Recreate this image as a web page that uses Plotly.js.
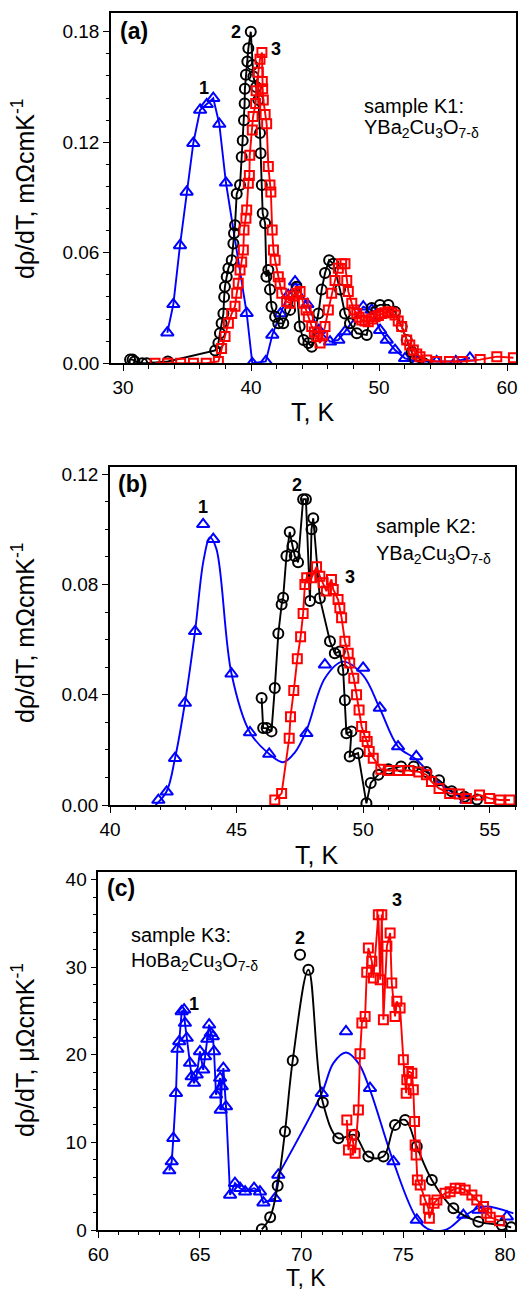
<!DOCTYPE html>
<html>
<head>
<meta charset="utf-8">
<script src="https://cdn.plot.ly/plotly-3.0.1.min.js"></script>
<style>html,body{margin:0;padding:0;background:#fff;}#chart{width:519px;height:1292px;}</style>
</head>
<body>
<div id="chart"></div>
<script>
// ---------- Panel (a): sample K1, YBa2Cu3O7-d (mOhm cm / K) ----------
const aT1 = [33.46, 33.93, 34.45, 34.97, 35.49, 36.02, 36.54, 37.05, 37.52, 38.04, 39.66, 40.1, 41.15, 41.66, 42.3, 42.9, 43.44, 44.4, 45.3, 46.17, 46.82, 47.34, 48.77, 49.43, 50.08, 50.6, 51.25, 52.03, 53.0, 54.5, 56.0, 57.1];
const aY1 = [0.0166, 0.032, 0.064, 0.093, 0.1195, 0.1375, 0.1406, 0.1439, 0.1299, 0.098, 0.0272, 0.0, 0.001, 0.0154, 0.027, 0.037, 0.0443, 0.032, 0.018, 0.0117, 0.0127, 0.0172, 0.0307, 0.029, 0.018, 0.0127, 0.0072, 0.0027, 0.001, 0.001, 0.001, 0.003];
const aT2 = [30.55, 30.75, 30.9, 31.5, 31.85, 33.5, 37.2, 37.45, 37.57, 37.7, 37.84, 37.9, 37.96, 38.1, 38.23, 38.49, 38.62, 38.67, 38.75, 38.88, 39.14, 39.27, 39.35, 39.45, 39.5, 39.52, 39.6, 39.71, 39.79, 39.98, 40.1, 40.18, 40.4, 40.57, 40.7, 40.75, 40.84, 40.91, 41.1, 41.2, 41.35, 41.48, 41.6, 41.88, 42.13, 42.52, 43.05, 43.56, 43.8, 44.1, 44.48, 44.74, 45.26, 45.52, 45.78, 46.1, 46.43, 46.95, 47.34, 47.73, 48.26, 49.04, 49.43, 50.07, 50.73, 51.25, 51.77, 52.16, 52.55, 52.8, 53.5];
const aY2 = [0.002, 0.002, 0.001, 0.0, 0.0, 0.001, 0.007, 0.011, 0.0163, 0.0217, 0.027, 0.036, 0.0416, 0.047, 0.0516, 0.056, 0.065, 0.0706, 0.075, 0.092, 0.0968, 0.112, 0.121, 0.132, 0.141, 0.149, 0.1566, 0.1638, 0.171, 0.18, 0.162, 0.1557, 0.15, 0.143, 0.125, 0.114, 0.0968, 0.0815, 0.076, 0.047, 0.0507, 0.04, 0.0307, 0.0253, 0.0217, 0.0217, 0.029, 0.0416, 0.02, 0.0127, 0.011, 0.009, 0.027, 0.04, 0.049, 0.056, 0.054, 0.04, 0.027, 0.0217, 0.0163, 0.0154, 0.03, 0.0317, 0.0317, 0.028, 0.02, 0.0127, 0.0063, 0.002, 0.0];
const aT3 = [32.5, 33.5, 34.5, 35.5, 36.5, 37.45, 37.7, 37.97, 38.23, 38.49, 38.75, 38.88, 39.0, 39.14, 39.27, 39.4, 39.45, 39.6, 39.66, 39.79, 39.87, 39.9, 40.1, 40.16, 40.36, 40.4, 40.57, 40.7, 40.85, 40.88, 40.91, 40.96, 41.1, 41.22, 41.35, 41.48, 41.55, 41.65, 41.75, 41.88, 42.13, 42.27, 42.4, 42.78, 43.05, 43.3, 43.55, 43.83, 44.09, 44.3, 44.48, 44.74, 44.95, 45.13, 45.39, 45.6, 45.78, 46.04, 46.3, 46.56, 46.82, 47.08, 47.34, 47.48, 47.6, 47.87, 48.05, 48.26, 48.45, 48.65, 48.9, 49.16, 49.45, 49.69, 49.95, 50.2, 50.45, 50.73, 51.0, 51.25, 51.5, 51.77, 52.16, 52.4, 52.68, 52.95, 53.2, 53.72, 54.5, 55.5, 56.5, 57.9, 59.2, 60.5];
const aY3 = [0.0, 0.0, 0.0, 0.0, 0.0, 0.001, 0.008, 0.0145, 0.0217, 0.027, 0.031, 0.038, 0.0435, 0.0507, 0.055, 0.0615, 0.0724, 0.0787, 0.0832, 0.0977, 0.102, 0.113, 0.1267, 0.134, 0.141, 0.148, 0.158, 0.165, 0.1687, 0.153, 0.149, 0.143, 0.135, 0.130, 0.1068, 0.0968, 0.093, 0.0724, 0.0615, 0.056, 0.047, 0.0435, 0.038, 0.0335, 0.0326, 0.0365, 0.038, 0.039, 0.0326, 0.029, 0.0253, 0.02, 0.017, 0.0145, 0.011, 0.015, 0.02, 0.029, 0.038, 0.045, 0.0516, 0.054, 0.054, 0.045, 0.039, 0.0326, 0.029, 0.027, 0.025, 0.0235, 0.023, 0.0226, 0.024, 0.0253, 0.026, 0.027, 0.0275, 0.028, 0.0275, 0.0262, 0.023, 0.02, 0.0127, 0.01, 0.0072, 0.005, 0.0036, 0.0018, 0.001, 0.001, 0.001, 0.002, 0.0036, 0.003];

// ---------- Panel (b): sample K2, YBa2Cu3O7-d (mOhm cm / K) ----------
const bT1 = [41.91, 42.24, 42.57, 42.96, 43.36, 43.68, 44.08, 44.8, 45.53, 46.29, 47.76, 48.49, 50.0, 50.66, 51.38, 52.1, 54.08];
const bY1 = [0.0018, 0.0048, 0.017, 0.037, 0.063, 0.1018, 0.0964, 0.0476, 0.0263, 0.0185, 0.026, 0.0509, 0.0497, 0.0352, 0.0212, 0.0176, 0.0018];
const bFitT = [41.8, 42.24, 42.57, 42.96, 43.36, 43.7, 43.95, 44.2, 44.8, 45.53, 46.29, 46.84, 47.3, 47.76, 48.49, 49.2, 50.0, 50.66, 51.38, 52.1, 53.0, 54.0];
const bFitY = [0.0, 0.005, 0.017, 0.037, 0.063, 0.089, 0.097, 0.093, 0.0476, 0.0263, 0.0185, 0.0155, 0.019, 0.027, 0.046, 0.052, 0.047, 0.035, 0.0212, 0.0165, 0.008, 0.002];
const bT2 = [45.99, 46.05, 46.19, 46.38, 46.51, 46.65, 46.78, 46.84, 46.97, 47.1, 47.21, 47.3, 47.43, 47.63, 47.74, 47.9, 47.96, 48.03, 48.29, 48.69, 48.88, 49.08, 49.21, 49.28, 49.34, 49.54, 49.47, 49.8, 50.13, 50.3, 50.6, 51.0, 51.5, 52.0, 52.5, 53.0, 53.5, 54.0, 54.5];
const bY2 = [0.0388, 0.0279, 0.0279, 0.0267, 0.0424, 0.0622, 0.0727, 0.0752, 0.0903, 0.099, 0.094, 0.0903, 0.088, 0.1109, 0.1109, 0.074, 0.1, 0.104, 0.075, 0.0594, 0.055, 0.0557, 0.049, 0.038, 0.026, 0.0267, 0.0176, 0.0188, 0.0006, 0.008, 0.011, 0.013, 0.014, 0.014, 0.012, 0.009, 0.005, 0.003, 0.002];
const bT3 = [46.51, 46.78, 47.08, 47.13, 47.26, 47.4, 47.53, 47.63, 47.7, 47.77, 47.96, 48.16, 48.29, 48.42, 48.55, 48.75, 48.82, 49.01, 49.08, 49.15, 49.28, 49.41, 49.47, 49.63, 49.74, 49.84, 49.94, 50.07, 50.16, 50.24, 50.4, 50.7, 51.0, 51.4, 51.8, 52.2, 52.5, 52.7, 53.0, 53.42, 53.8, 54.08, 54.6, 55.0, 55.4, 55.8];
const bY3 = [0.0018, 0.0042, 0.0242, 0.032, 0.0415, 0.053, 0.061, 0.0695, 0.08, 0.0824, 0.0824, 0.0864, 0.083, 0.0806, 0.0776, 0.0818, 0.0782, 0.0745, 0.0715, 0.0679, 0.0594, 0.055, 0.0515, 0.046, 0.04, 0.0345, 0.0285, 0.0248, 0.023, 0.0194, 0.017, 0.013, 0.0125, 0.0125, 0.0125, 0.012, 0.011, 0.0085, 0.006, 0.0042, 0.004, 0.0024, 0.0036, 0.0024, 0.0018, 0.0018];

// ---------- Panel (c): sample K3, HoBa2Cu3O7-d (uOhm cm / K) ----------
const cT1 = [63.49, 63.61, 63.69, 63.82, 63.89, 63.98, 64.1, 64.22, 64.26, 64.35, 64.51, 64.59, 64.71, 64.84, 65.0, 65.16, 65.25, 65.36, 65.45, 65.53, 65.63, 65.69, 65.79, 65.99, 66.02, 66.07, 66.15, 66.28, 66.48, 66.72, 66.97, 67.22, 67.66, 67.95, 68.12, 68.69, 68.85];
const cY1 = [6.78, 7.81, 10.48, 15.62, 20.65, 21.52, 24.95, 25.14, 23.62, 21.91, 19.05, 17.52, 16.77, 17.71, 20.38, 18.29, 19.8, 21.79, 23.43, 22.48, 22.09, 20.38, 15.43, 17.34, 13.71, 16.38, 18.48, 14.09, 4.0, 5.34, 4.77, 4.38, 4.77, 4.38, 3.12, 3.62, 6.29];
const cT1b = [70.99, 72.18, 73.36, 74.51, 75.66, 77.95, 78.69, 80.09];
const cY1b = [15.62, 22.66, 16.19, 7.81, 1.14, 1.71, 2.29, 1.52];
const cFitT = [68.85, 70.99, 71.56, 72.18, 72.79, 73.36, 74.51, 75.66, 76.32, 77.14, 77.95, 78.94, 80.41];
const cFitY = [6.29, 15.62, 19.05, 20.26, 19.05, 16.0, 7.81, 1.33, 0.0, 0.08, 1.52, 2.67, 1.9];
const cT2 = [68.04, 68.45, 68.82, 69.18, 69.56, 70.33, 71.04, 71.8, 72.58, 73.28, 74.02, 74.59, 75.09, 75.66, 76.4, 77.46, 78.69, 79.84, 80.3];
const cY2 = [0.08, 1.45, 5.06, 11.23, 19.35, 29.71, 14.55, 10.48, 10.86, 8.38, 8.38, 12.0, 12.57, 9.52, 5.71, 2.48, 0.95, 0.57, 0.3];
const cT2b = [69.92];
const cY2b = [31.43];
const cT3 = [72.22, 72.3, 72.46, 72.63, 72.79, 72.87, 72.96, 73.12, 73.2, 73.28, 73.45, 73.53, 73.77, 73.86, 73.94, 74.02, 74.19, 74.35, 74.43, 74.59, 74.68, 74.84, 75.0, 75.14, 75.17, 75.25, 75.42, 75.49, 75.55, 75.58, 75.63, 75.69, 75.83, 76.07, 76.23, 76.28, 76.51, 76.65, 77.05, 77.3, 77.55, 77.79, 78.04, 78.37, 78.61, 78.94, 79.1, 79.27, 79.73];
const cY3 = [12.57, 9.14, 10.86, 8.76, 13.71, 20.11, 23.62, 24.38, 29.41, 32.19, 30.67, 28.76, 36.0, 28.57, 36.0, 24.0, 32.38, 33.9, 28.19, 24.38, 26.1, 25.33, 19.43, 15.62, 17.14, 18.1, 17.9, 16.0, 12.38, 9.71, 8.57, 5.71, 5.14, 3.43, 2.48, 1.33, 3.05, 3.43, 4.19, 4.38, 4.76, 4.76, 4.57, 4.0, 3.43, 2.67, 1.9, 1.45, 1.06];

const BLUE = '#0000ff', RED = '#ff0000', BLACK = '#000000';
const W = 519, H = 1292;
const FONT = 'Liberation Sans, Arial, Helvetica, sans-serif';

function mk(x, y, xa, ya, color, symbol, size, mode, shape) {
  return {
    x: x, y: y, xaxis: xa, yaxis: ya, type: 'scatter', mode: mode || 'lines+markers',
    line: {color: color, width: 1.9, shape: shape || 'linear', smoothing: 1},
    marker: {symbol: symbol, size: size, color: color, line: {color: color, width: 2}},
    hoverinfo: 'skip', showlegend: false
  };
}

const traces = [
  mk(aT1, aY1, 'x', 'y', BLUE, 'triangle-up-open', 11),
  mk(aT2, aY2, 'x', 'y', BLACK, 'circle-open', 10),
  mk(aT3, aY3, 'x', 'y', RED, 'square-open', 9),

  mk(bFitT, bFitY, 'x2', 'y2', BLUE, 'triangle-up-open', 11, 'lines', 'spline'),
  mk(bT1, bY1, 'x2', 'y2', BLUE, 'triangle-up-open', 11, 'markers'),
  mk(bT2, bY2, 'x2', 'y2', BLACK, 'circle-open', 10),
  mk(bT3, bY3, 'x2', 'y2', RED, 'square-open', 9),

  mk(cT1, cY1, 'x3', 'y3', BLUE, 'triangle-up-open', 11),
  mk(cFitT, cFitY, 'x3', 'y3', BLUE, 'triangle-up-open', 11, 'lines', 'spline'),
  mk(cT1b, cY1b, 'x3', 'y3', BLUE, 'triangle-up-open', 11, 'markers'),
  mk(cT2, cY2, 'x3', 'y3', BLACK, 'circle-open', 10, 'lines+markers', 'spline'),
  mk(cT2b, cY2b, 'x3', 'y3', BLACK, 'circle-open', 10, 'markers'),
  mk(cT3, cY3, 'x3', 'y3', RED, 'square-open', 9)
];

function ax(domain, range, dtick, minor, anchor, fmt) {
  const o = {
    domain: domain, range: range, anchor: anchor, dtick: dtick, tick0: 0,
    ticks: 'outside', ticklen: 6, tickwidth: 1.4, tickcolor: '#000',
    minor: {dtick: minor, ticks: 'outside', ticklen: 3.5, tickwidth: 1.2, tickcolor: '#000', showgrid: false},
    showline: true, linecolor: '#000', linewidth: 1.5, mirror: true,
    showgrid: false, zeroline: false, automargin: false,
    tickfont: {family: FONT, size: 19, color: '#000'}, fixedrange: true
  };
  if (fmt) o.tickformat = fmt;
  return o;
}

function A(text, x, y, opts) {
  opts = opts || {};
  return Object.assign({
    text: text, xref: 'paper', yref: 'paper', x: x / W, y: 1 - y / H,
    showarrow: false, xanchor: 'center', yanchor: 'middle',
    font: {family: FONT, size: 18, color: '#000', weight: 'bold'}
  }, opts);
}
const bold = (s) => ({family: FONT, size: s, color: '#000', weight: 'bold'});
const reg = (s) => ({family: FONT, size: s, color: '#000'});

const YT1 = 'dρ/dT, mΩcmK<sup>-1</sup>';
const YT3 = 'dρ/dT, μΩcmK<sup>-1</sup>';
const XT = 'T, K';

const annotations = [
  A('<b>(a)</b>', 134, 31, {font: bold(23)}),
  A('<b>(b)</b>', 132, 484, {font: bold(23)}),
  A('<b>(c)</b>', 121, 888, {font: bold(23)}),
  A('1', 204, 88), A('2', 236, 32), A('3', 276, 49),
  A('1', 203, 507), A('2', 297, 485), A('3', 350, 577),
  A('1', 194, 1004), A('2', 300, 938), A('3', 397, 900),
  A('sample K1:', 362, 106, {xanchor: 'left', font: reg(20)}),
  A('YBa<sub>2</sub>Cu<sub>3</sub>O<sub>7-δ</sub>', 362, 128, {xanchor: 'left', font: reg(20)}),
  A('sample K2:', 374, 526, {xanchor: 'left', font: reg(20)}),
  A('YBa<sub>2</sub>Cu<sub>3</sub>O<sub>7-δ</sub>', 374, 554, {xanchor: 'left', font: reg(20)}),
  A('sample K3:', 129, 935, {xanchor: 'left', font: reg(20)}),
  A('HoBa<sub>2</sub>Cu<sub>3</sub>O<sub>7-δ</sub>', 129, 961, {xanchor: 'left', font: reg(20)}),
  A(YT1, 23, 189, {textangle: -90, font: reg(25)}),
  A(YT1, 23, 633, {textangle: -90, font: reg(25)}),
  A(YT3, 23, 1050, {textangle: -90, font: reg(25)}),
  A(XT, 312, 412, {font: reg(25)}),
  A(XT, 316, 855, {font: reg(25)}),
  A(XT, 306, 1278, {font: reg(23)})
];

const layout = {
  width: W, height: H, margin: {l: 0, r: 0, t: 0, b: 0},
  paper_bgcolor: '#fff', plot_bgcolor: '#fff', showlegend: false,
  font: {family: FONT, color: '#000'},
  xaxis: ax([111 / W, 516 / W], [29.06, 60.7], 10, 2, 'y'),
  yaxis: ax([1 - 363.3 / H, 1 - 13.3 / H], [0, 0.190], 0.06, 0.012, 'x', '.2f'),
  xaxis2: ax([110 / W, 515 / W], [40, 56], 5, 1, 'y2'),
  yaxis2: ax([1 - 805 / H, 1 - 466.7 / H], [0, 0.1227], 0.04, 0.01, 'x2', '.2f'),
  xaxis3: ax([98.3 / W, 515 / W], [60, 80.49], 5, 1, 'y3'),
  yaxis3: ax([1 - 1230 / H, 1 - 871.7 / H], [0, 40.9], 10, 2, 'x3'),
  annotations: annotations
};

Plotly.newPlot('chart', traces, layout, {displayModeBar: false});
</script>
</body>
</html>
